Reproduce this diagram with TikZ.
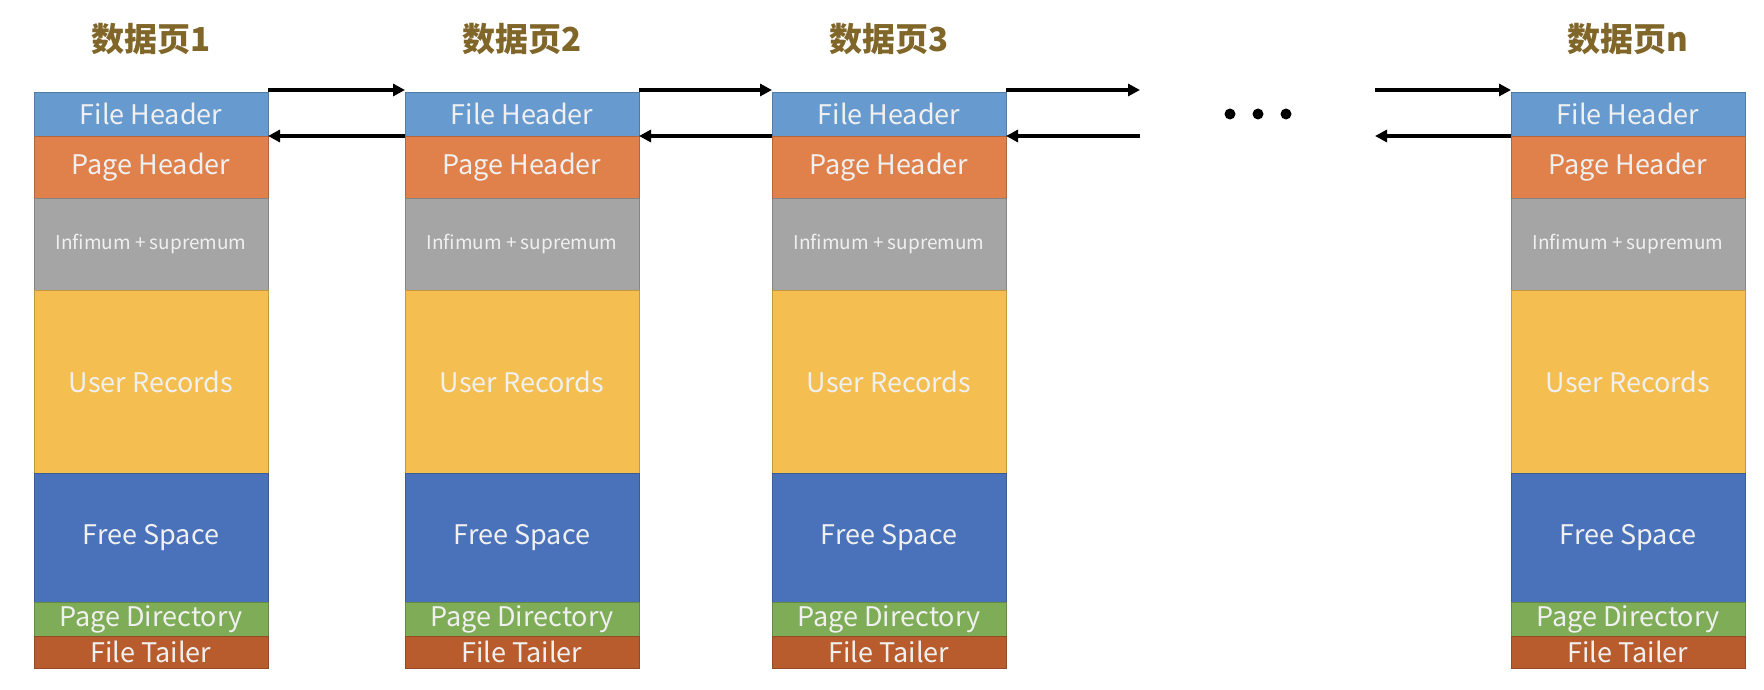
\documentclass[tikz,border=0pt]{standalone}
\usepackage{fontspec}
\setmainfont{Noto Sans CJK SC}
\usetikzlibrary{positioning,arrows.meta}

\definecolor{fhblue}{RGB}{103,154,207}
\definecolor{phorange}{RGB}{224,128,74}
\definecolor{infgray}{RGB}{165,165,165}
\definecolor{uryellow}{RGB}{244,191,80}
\definecolor{fsblue}{RGB}{74,114,186}
\definecolor{pdgreen}{RGB}{126,172,87}
\definecolor{ftbrown}{RGB}{184,92,46}
\definecolor{titlebrown}{RGB}{128,102,40}

\tikzset{
    seg/.style n args={2}{draw=#1!80!black,fill=#1,line width=0.8pt,
        minimum width=234pt,minimum height=#2pt,inner sep=0pt,outer sep=0pt,
        anchor=north,text=white!94!black,font=\fontsize{27}{27}\selectfont},
    pagetitle/.style={text=titlebrown,font=\fontsize{33}{33}\selectfont\bfseries},
    link/.style={-{Triangle[length=12pt,width=12pt]},line width=3.2pt},
    dot/.style={circle,fill,inner sep=0pt,minimum size=11pt}
}

\begin{document}
\begin{tikzpicture}[x=1pt,y=-1pt]
    \useasboundingbox (0,0) rectangle (1764,690);

    \foreach \i/\x in {1/151,2/522,3/889,n/1628} {
        \node[pagetitle] (t\i) at (\x,39) {数据页\i};
        \node[seg={fhblue}{44}] (fh\i) at (\x,92) {File Header};
        \node[seg={phorange}{62},below=0pt of fh\i] (ph\i) {Page Header};
        \node[seg={infgray}{92},below=0pt of ph\i,font=\fontsize{19}{19}\selectfont] (inf\i) {Infimum + supremum};
        \node[seg={uryellow}{183},below=0pt of inf\i] (ur\i) {User Records};
        \node[seg={fsblue}{129},below=0pt of ur\i] (fs\i) {Free Space};
        \node[seg={pdgreen}{34},below=0pt of fs\i] (pd\i) {Page Directory};
        \node[seg={ftbrown}{32},below=0pt of pd\i] (ft\i) {File Tailer};
    }

    % the pages left out
    \node[dot] (d1) at (1230,114) {};
    \node[dot] (d2) at (1258,114) {};
    \node[dot] (d3) at (1286,114) {};

    \coordinate (gapa) at (1140,90);
    \coordinate (gapb) at (1140,136);
    \coordinate (gapc) at (1375,90);
    \coordinate (gapd) at (1375,136);

    \draw[link] ([yshift=2pt]fh1.north east) -- ([yshift=2pt]fh2.north west);
    \draw[link] (fh2.south west) -- (fh1.south east);
    \draw[link] ([yshift=2pt]fh2.north east) -- ([yshift=2pt]fh3.north west);
    \draw[link] (fh3.south west) -- (fh2.south east);
    \draw[link] ([yshift=2pt]fh3.north east) -- (gapa);
    \draw[link] (gapb) -- (fh3.south east);
    \draw[link] (gapc) -- ([yshift=2pt]fhn.north west);
    \draw[link] (fhn.south west) -- (gapd);
\end{tikzpicture}
\end{document}
